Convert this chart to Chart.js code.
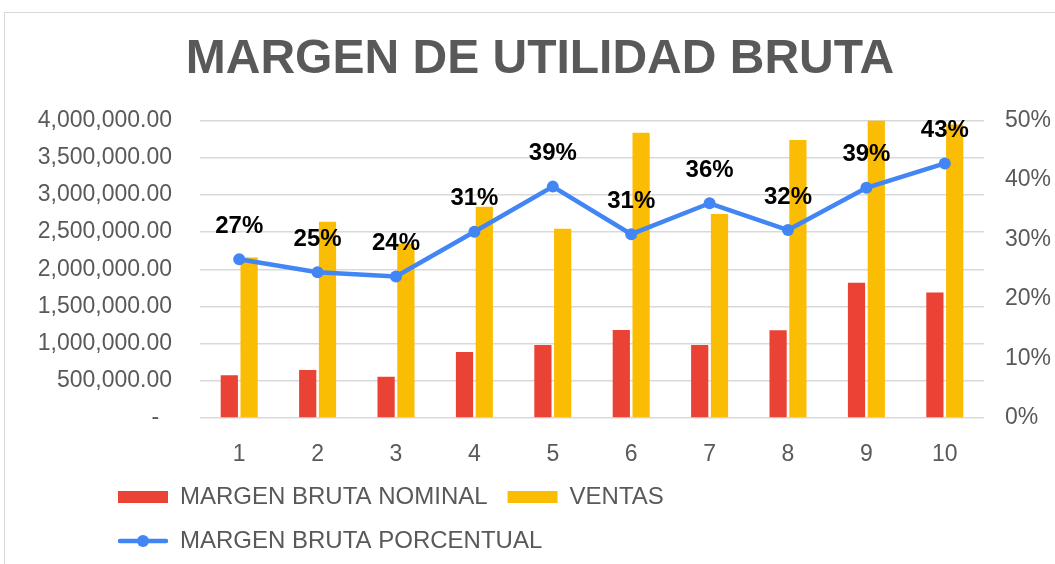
<!DOCTYPE html>
<html>
<head>
<meta charset="utf-8">
<title>Margen de utilidad bruta</title>
<script src="https://cdn.jsdelivr.net/npm/chart.js@4"></script>
<style>
    html, body { margin: 0; padding: 0; background: #fff; overflow: hidden; }
    #frame {
        position: absolute; left: 4px; top: 12px;
        width: 1200px; height: 700px;
        border: 1px solid #d9d9d9;
    }
    #margenChart { position: absolute; left: 0; top: 0; }
</style>
</head>
<body>
<div id="frame"><canvas id="margenChart" width="1070" height="551"></canvas></div>
<script>
// datos
const periodos = ['1', '2', '3', '4', '5', '6', '7', '8', '9', '10'];
const margenNominal = [575000, 646000, 556000, 889000, 983000, 1185000, 983000, 1181000, 1818000, 1688000];
const ventas = [2159000, 2640000, 2343000, 2842000, 2545000, 3838000, 2743000, 3740000, 4000000, 3946000];
const margenPorcentual = [0.267, 0.245, 0.238, 0.313, 0.389, 0.309, 0.361, 0.316, 0.387, 0.428];
const ticksVentas = [0, 500000, 1000000, 1500000, 2000000, 2500000, 3000000, 3500000, 4000000];
const ticksPorcentaje = [0, 0.1, 0.2, 0.3, 0.4, 0.5];

const fuente = '"Liberation Sans", Arial, sans-serif';
const gris = '#595959';

// etiquetas de porcentaje sobre la linea
const etiquetasPlugin = {
    id: 'etiquetas',
    afterDatasetsDraw(chart) {
        let ctx = chart.ctx;
        let meta = chart.getDatasetMeta(2);
        ctx.save();
        ctx.font = 'bold 24px ' + fuente;
        ctx.fillStyle = '#000';
        ctx.textAlign = 'center';
        ctx.textBaseline = 'middle';
        meta.data.forEach((pt, i) => {
            ctx.fillText(Math.round(margenPorcentual[i] * 100) + '%', pt.x, pt.y - 33);
        });
        ctx.restore();
    }
};

// leyenda alineada a la izquierda como en Excel, en dos filas, con icono de linea y marcador
const leyendaPlugin = {
    id: 'leyendaExcel',
    beforeLayout(chart) {
        let lg = chart.legend;
        if (lg && !lg._filas) {
            let fitOriginal = lg.fit;
            lg.fit = function () {
                this.maxWidth = Math.min(this.maxWidth, 900);
                fitOriginal.call(this);
            };
            lg._filas = true;
        }
    },
    afterLayout(chart) {
        chart.legend.left = 93;
    },
    afterDraw(chart) {
        let hb = chart.legend.legendHitBoxes[2];
        if (!hb) return;
        let ctx = chart.ctx;
        let w = chart.legend.options.labels.boxWidth;
        let y = hb.top + hb.height / 2;
        ctx.save();
        ctx.strokeStyle = '#4285F4';
        ctx.lineWidth = 4.5;
        ctx.lineCap = 'round';
        ctx.beginPath();
        ctx.moveTo(hb.left + 2, y);
        ctx.lineTo(hb.left + w - 2, y);
        ctx.stroke();
        ctx.fillStyle = '#4285F4';
        ctx.beginPath();
        ctx.arc(hb.left + w / 2, y, 6, 0, Math.PI * 2);
        ctx.fill();
        ctx.restore();
    }
};

const data = {
    labels: periodos,
    datasets: [{
            type: 'bar',
            label: 'MARGEN BRUTA NOMINAL',
            data: margenNominal,
            backgroundColor: '#EA4335',
            yAxisID: 'y',
            order: 1,
            categoryPercentage: 0.505,
            barPercentage: 0.87
        }, {
            type: 'bar',
            label: 'VENTAS',
            data: ventas,
            backgroundColor: '#FBBC04',
            yAxisID: 'y',
            order: 1,
            categoryPercentage: 0.505,
            barPercentage: 0.87
        }, {
            type: 'line',
            label: 'MARGEN BRUTA PORCENTUAL',
            data: margenPorcentual,
            borderColor: '#4285F4',
            backgroundColor: '#4285F4',
            borderWidth: 4.5,
            pointRadius: 6,
            pointBackgroundColor: '#4285F4',
            pointBorderWidth: 0,
            tension: 0,
            yAxisID: 'y1',
            order: 0
        }]
};

const config = {
    data: data,
    options: {
        responsive: false,
        animation: false,
        layout: { padding: { left: 0, right: 0, top: 0, bottom: 1 } },
        plugins: {
            title: {
                display: true,
                text: 'MARGEN DE UTILIDAD BRUTA',
                color: gris,
                font: { family: fuente, size: 48, weight: 'bold' },
                padding: { top: 18, bottom: 32 }
            },
            legend: {
                position: 'bottom',
                align: 'start',
                labels: {
                    color: gris,
                    font: { family: fuente, size: 24 },
                    boxWidth: 50,
                    boxHeight: 12,
                    padding: 20,
                    generateLabels(chart) {
                        let items = Chart.defaults.plugins.legend.labels.generateLabels(chart);
                        items.forEach(it => {
                            it.lineWidth = 0;
                            if (it.datasetIndex === 2) {
                                it.fillStyle = 'rgba(0,0,0,0)';
                                it.strokeStyle = 'rgba(0,0,0,0)';
                            }
                        });
                        return items.sort((a, b) => a.datasetIndex - b.datasetIndex);
                    }
                }
            },
            tooltip: { enabled: false }
        },
        scales: {
            x: {
                grid: { display: false },
                border: { display: false },
                ticks: {
                    color: gris,
                    font: { family: fuente, size: 23 },
                    padding: 15
                },
                afterFit(scale) { scale.height = 47; }
            },
            y: {
                position: 'left',
                min: 0,
                max: 4000000,
                afterBuildTicks(scale) { scale.ticks = ticksVentas.map(v => ({ value: v })); },
                grid: { color: '#d9d9d9', lineWidth: 1.5, drawTicks: false },
                border: { display: false },
                ticks: {
                    color: gris,
                    font: { family: fuente, size: 23 },
                    padding: 28,
                    callback: v => v === 0 ? '-  ' : v.toLocaleString('en-US', { minimumFractionDigits: 2 })
                },
                afterFit(scale) { scale.width = 195; }
            },
            y1: {
                position: 'right',
                min: 0,
                max: 0.5,
                afterBuildTicks(scale) { scale.ticks = ticksPorcentaje.map(v => ({ value: v })); },
                grid: { display: false, drawTicks: false },
                border: { display: false },
                ticks: {
                    color: gris,
                    font: { family: fuente, size: 23 },
                    padding: 21,
                    callback: v => Math.round(v * 100) + '%'
                },
                afterFit(scale) { scale.width = 91; }
            }
        }
    },
    plugins: [etiquetasPlugin, leyendaPlugin]
};

let idMargen = document.getElementById('margenChart').getContext('2d');
new Chart(idMargen, config);
</script>
</body>
</html>
